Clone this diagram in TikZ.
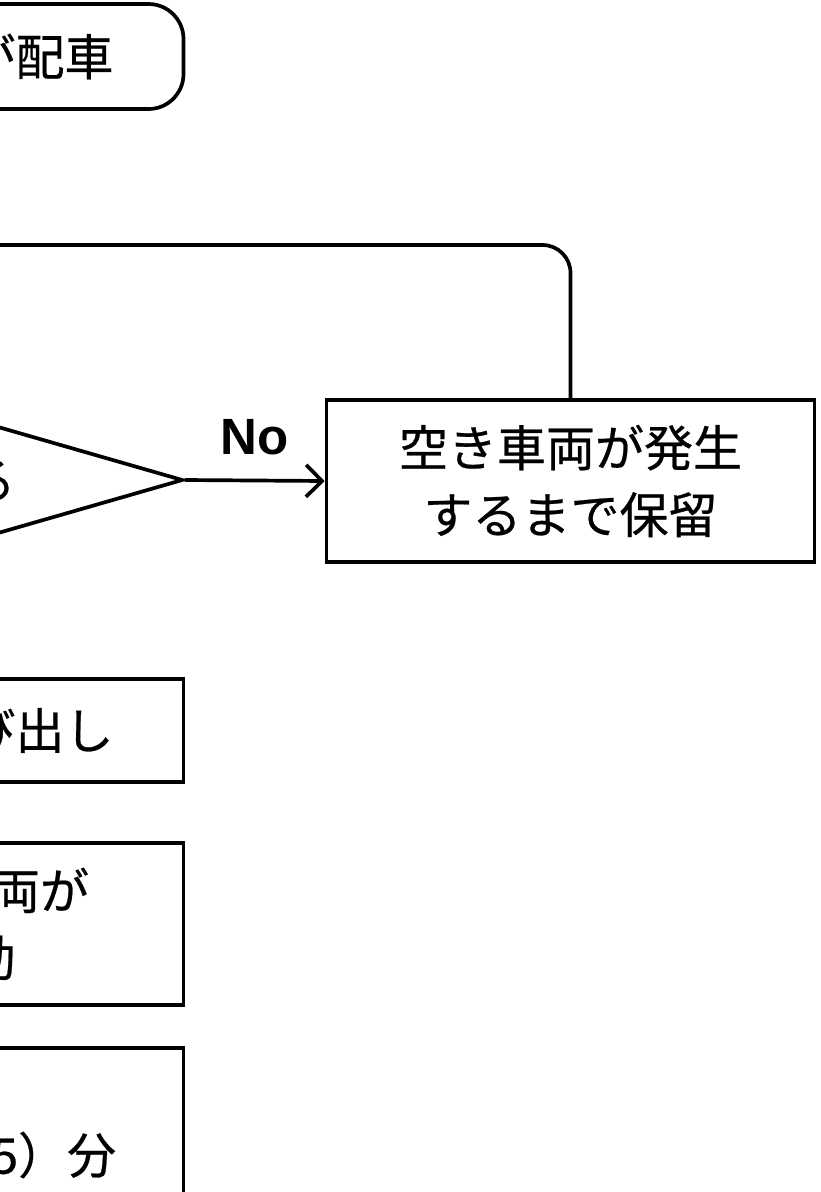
\documentclass[tikz,border=0pt]{standalone}
\usepackage{fontspec}
\newfontfamily\jpfont[UprightFeatures={FakeBold=0.5}]{Noto Sans CJK JP}
\newfontfamily\lblfont[BoldFont={Liberation Sans Bold}]{Liberation Sans}
\usetikzlibrary{shapes.geometric,arrows.meta}
\begin{document}
\begin{tikzpicture}[x=1pt,y=-1pt,line width=3.7pt,
  jptext/.style={font=\jpfont\fontsize{49pt}{67pt}\selectfont, align=center},
  procbox/.style={draw, rectangle, inner sep=0pt, jptext},
  termbox/.style={draw, rectangle, rounded corners=35pt, inner sep=0pt, jptext},
  decbox/.style={draw, diamond, aspect=3.45, inner sep=0pt, jptext},
  conn/.style={-{Straight Barb[length=16pt,width=32pt]}},
  lbl/.style={font=\lblfont\bfseries\fontsize{51pt}{60pt}\selectfont, inner sep=0pt}]
\useasboundingbox (0,0) rectangle (821,1192);
\node[termbox, minimum width=581pt, minimum height=105pt] (start) at (-107,56.5) {タクシー会社が配車};
\node[decbox, minimum width=580pt, minimum height=168pt] (dec) at (-107,480) {空車がある};
\node[procbox, minimum width=488pt, minimum height=162pt] (hold) at (570.5,481) {空き車両が発生\\するまで保留};
\node[procbox, minimum width=581pt, minimum height=103pt] (call) at (-107,730.5) {タクシーを呼び出し};
\node[procbox, minimum width=581pt, minimum height=162pt] (move) at (-107,924) {配車された車両が\\現地へ移動};
\node[procbox, minimum width=581pt, minimum height=214pt] (wait) at (-107,1155) {到着まで（3～5）分};
\coordinate (loopend) at (-107,245);
\node[lbl] (nolbl) at (254.5,437) {No};
\draw[conn] (dec.east) -- (hold.west);
\draw[rounded corners=28pt] (hold.north) |- (loopend);
\draw[conn] (start.south) -- (dec.north);
\draw[conn] (dec.south) -- (call.north);
\draw[conn] (call.south) -- (move.north);
\draw[conn] (move.south) -- (wait.north);
\end{tikzpicture}
\end{document}
